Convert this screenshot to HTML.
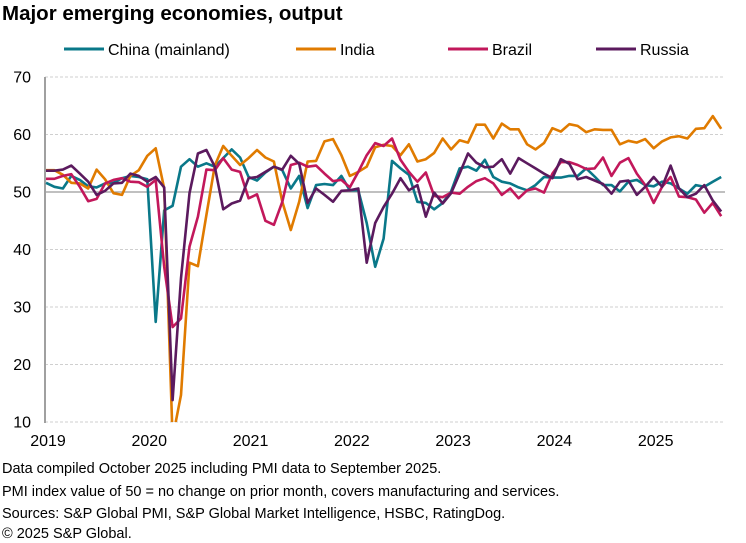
<!DOCTYPE html>
<html><head><meta charset="utf-8">
<style>
body{margin:0;background:#fff;font-family:"Liberation Sans",Arial,sans-serif;}
#wrap{position:relative;width:746px;height:543px;overflow:hidden;}
.title{position:absolute;left:2px;top:2px;font-weight:bold;font-size:20.5px;color:#000;}
.foot{position:absolute;left:2px;font-size:14.5px;color:#000;white-space:nowrap;}
</style></head>
<body>
<div id="wrap">
<div class="title">Major emerging economies, output</div>
<svg id="chart" width="746" height="543" style="position:absolute;left:0;top:0"></svg>
<div class="foot" style="top:461px">Data compiled October 2025 including PMI data to September 2025.</div>
<div class="foot" style="top:484px">PMI index value of 50 = no change on prior month, covers manufacturing and services.</div>
<div class="foot" style="top:506px">Sources: S&amp;P Global PMI, S&amp;P Global Market Intelligence, HSBC, RatingDog.</div>
<div class="foot" style="top:526px">© 2025 S&amp;P Global.</div>
</div>
<script>
const yTicks=[10,20,30,40,50,60,70];
const xLabels=["2019","2020","2021","2022","2023","2024","2025"];
const seriesNames=["China (mainland)","India","Brazil","Russia"];
const china=[51.6,50.9,50.6,52.8,52.1,51.0,50.8,51.5,51.6,52.4,52.8,52.6,52.2,27.4,46.8,47.6,54.4,55.7,54.4,55.0,54.4,55.9,57.4,56.0,52.6,52.0,53.4,54.4,53.8,50.6,52.8,47.2,51.2,51.4,51.2,52.8,50.3,50.3,44.6,37.0,41.9,55.4,54.1,53.0,48.3,48.1,47.0,48.1,50.1,54.1,54.4,53.7,55.6,52.6,51.8,51.5,50.8,50.3,51.2,52.6,52.5,52.5,52.8,52.8,54.1,52.7,51.2,51.2,50.1,51.8,52.1,51.2,51.0,51.8,51.5,50.6,49.7,51.2,50.9,51.8,52.6];
const india=[53.8,53.8,53.0,51.6,51.5,50.6,53.9,52.2,49.8,49.5,52.8,53.8,56.3,57.6,50.6,7.2,14.7,37.7,37.1,46.0,54.6,58.0,56.3,54.7,55.9,57.3,56.0,55.3,48.3,43.4,48.3,55.3,55.4,58.8,59.2,56.4,52.8,53.5,54.4,57.8,58.2,58.0,56.4,58.3,55.3,55.7,56.8,59.3,57.4,59.0,58.6,61.7,61.7,59.3,61.9,60.9,60.9,58.3,57.4,58.5,61.1,60.5,61.8,61.5,60.4,60.9,60.8,60.8,58.3,58.9,58.6,59.2,57.6,58.8,59.5,59.7,59.3,61.0,61.1,63.2,61.0];
const brazil=[52.3,52.3,52.8,53.1,50.9,48.4,48.8,51.5,52.1,52.4,51.8,51.7,50.9,52.1,37.0,26.5,28.0,40.5,45.7,53.9,53.8,55.9,53.9,53.5,48.9,49.6,45.0,44.3,48.3,54.7,55.1,54.4,54.6,53.2,51.9,52.1,50.8,53.5,56.4,58.5,58.0,59.3,55.6,53.5,51.8,53.4,49.3,49.1,49.9,49.7,50.9,51.9,52.4,51.5,49.5,50.6,48.9,50.3,50.6,49.9,53.2,55.2,55.2,54.7,54.0,54.1,56.0,52.8,55.1,55.9,53.2,51.2,48.1,50.9,52.6,49.2,49.1,48.7,46.4,48.1,45.8];
const russia=[53.7,53.7,53.9,54.6,53.2,51.8,49.5,50.2,51.5,51.6,53.2,52.8,51.8,52.6,50.8,13.8,35.0,49.8,56.7,57.3,54.4,47.0,48.0,48.5,52.4,52.6,53.5,54.4,53.9,56.3,54.9,48.1,50.6,49.5,48.3,50.2,50.3,50.6,37.7,44.6,47.4,49.7,52.4,50.3,51.2,45.7,49.9,48.0,49.8,53.2,56.7,55.1,54.3,54.4,55.7,53.2,55.9,55.0,54.1,53.2,52.4,55.7,54.9,52.2,52.6,52.0,51.4,49.7,51.8,52.0,49.5,50.9,52.6,50.9,54.6,50.6,49.1,49.7,51.2,48.5,46.6];
const colors=["#0a7889","#e07b00","#c2185b","#5b1a5e"];
const NS="http://www.w3.org/2000/svg";
const svg=document.getElementById('chart');
const X0=46,DX=8.44,Y10=422,PPU=5.75;
function xs(i){return X0+DX*i;}
function ys(v){return Y10-(v-10)*PPU;}
function mk(tag,attrs){const e=document.createElementNS(NS,tag);for(const k in attrs)e.setAttribute(k,attrs[k]);svg.appendChild(e);return e;}
const defs=mk('defs',{});
const cp=document.createElementNS(NS,'clipPath');cp.setAttribute('id','pc');
const cr=document.createElementNS(NS,'rect');cr.setAttribute('x',40);cr.setAttribute('y',60);cr.setAttribute('width',700);cr.setAttribute('height',Y10-60);
cp.appendChild(cr);defs.appendChild(cp);
yTicks.forEach(t=>{
  const g=mk('line',{x1:45,x2:725,y1:ys(t),y2:ys(t),stroke:t===50?'#9a9a9a':'#cfcfcf','stroke-width':t===50?1.3:1,'stroke-dasharray':t===50?'':'3,2'});
  
  
  const l=mk('text',{x:31,y:ys(t)+5.5,'text-anchor':'end','font-size':16,fill:'#000'});
  l.textContent=t;
  
  
});
const ax=mk('line',{x1:45,x2:45,y1:ys(70),y2:Y10+1,stroke:'#a0a0a0','stroke-width':2});


xLabels.forEach((lab,k)=>{
  const t=mk('text',{x:xs(k*12)+2,y:446,'text-anchor':'middle','font-size':16,fill:'#000'});
  t.textContent=lab;
  
  
});
const allSeries=[china,india,brazil,russia];
[0,1,2,3].forEach(s=>{
  const d=allSeries[s].map((v,i)=>(i?'L':'M')+xs(i).toFixed(1)+','+ys(v).toFixed(1)).join('');
  const p=mk('path',{d:d,fill:'none',stroke:colors[s],'stroke-width':2.6,'stroke-linejoin':'round','clip-path':'url(#pc)'});
  
  
});
const legX=[64,296,448,596];
seriesNames.forEach((n,s)=>{
  const l=mk('line',{x1:legX[s],x2:legX[s]+40,y1:49,y2:49,stroke:colors[s],'stroke-width':3});
  
  
  const t=mk('text',{x:legX[s]+44,y:55,'font-size':16,fill:'#000'});
  t.textContent=n;
  
  
});
</script>
</body></html>
